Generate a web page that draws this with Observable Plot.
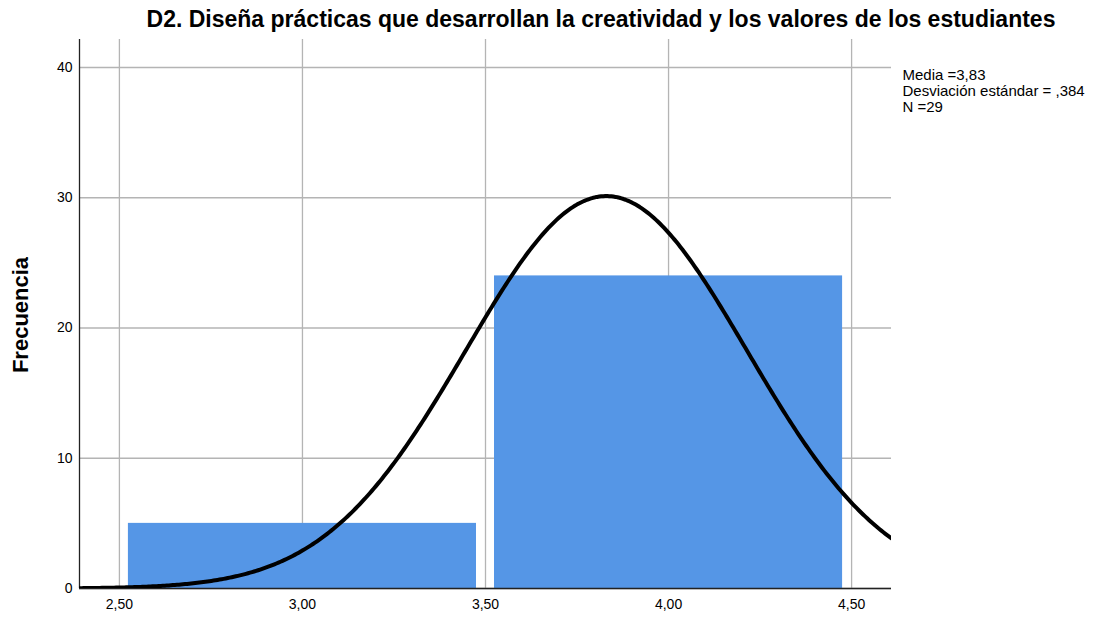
<!DOCTYPE html>
<html>
<head>
<meta charset="utf-8">
<script src="https://cdn.jsdelivr.net/npm/d3@7"></script>
<script src="https://cdn.jsdelivr.net/npm/@observablehq/plot@0.6"></script>
<style>
  html, body { margin: 0; padding: 0; background: #fff; }
  #wrap { position: relative; width: 1096px; height: 619px; font-family: "Liberation Sans", Arial, sans-serif; }
  #title { position: absolute; top: 6px; left: 601px; transform: translateX(-50%); white-space: nowrap;
           font-size: 23px; font-weight: bold; color: #000; line-height: 1.15; }
  #wrap svg { position: absolute; left: 0; top: 0; }
</style>
</head>
<body>
<div id="wrap">
  <div id="title">D2. Diseña prácticas que desarrollan la creatividad y los valores de los estudiantes</div>
</div>
<script>
// ---- data ----
const binStarts = [2.5, 3.5];
const binEnds = [3.5, 4.5];
const binCounts = [5, 24];
const mean = 3.83;
const sd = 0.384;
const n = 29;
const xTickValues = [2.5, 3.0, 3.5, 4.0, 4.5];
const xTickLabels = ["2,50", "3,00", "3,50", "4,00", "4,50"];
const yTickValues = [0, 10, 20, 30, 40];
const statsLines = ["Media =3,83", "Desviación estándar = ,384", "N =29"];

// ---- derived tables ----
const bins = binStarts.map((s, i) => ({x1: s, x2: binEnds[i], y: binCounts[i]}));
const xDomain = [2.391, 4.609];
const binWidth = 1.0;
const curve = d3.range(0, 401).map(i => {
  const x = xDomain[0] + (xDomain[1] - xDomain[0]) * i / 400;
  const z = (x - mean) / sd;
  return {x, y: n * binWidth * Math.exp(-0.5 * z * z) / (sd * Math.sqrt(2 * Math.PI))};
});

const chart = Plot.plot({
  width: 1096,
  height: 619,
  marginLeft: 79,
  marginRight: 205,
  marginTop: 39,
  marginBottom: 31,
  style: {fontFamily: "'Liberation Sans', Arial, sans-serif", fontSize: "14px", color: "#000", background: "transparent"},
  x: {domain: xDomain},
  y: {domain: [0, 42.15]},
  marks: [
    Plot.gridX(xTickValues, {stroke: "#b4b4b4", strokeOpacity: 1, strokeWidth: 1.3}),
    Plot.gridY(yTickValues, {stroke: "#b4b4b4", strokeOpacity: 1, strokeWidth: 1.3}),
    Plot.rectY(bins, {x1: "x1", x2: "x2", y: "y", fill: "#5596e6", insetLeft: 9, insetRight: 9}),
    Plot.ruleX([xDomain[0]], {stroke: "#222", strokeWidth: 1.3}),
    Plot.ruleY([0], {stroke: "#222", strokeWidth: 1.5}),
    Plot.line(curve, {x: "x", y: "y", stroke: "#000", strokeWidth: 4, clip: true}),
    Plot.axisX(xTickValues, {tickSize: 0, tickPadding: 11, tickFormat: (d, i) => xTickLabels[i], fontSize: 14, label: null}),
    Plot.axisY(yTickValues, {tickSize: 0, tickPadding: 7, fontSize: 14, label: null}),
    Plot.text(["Frecuencia"], {frameAnchor: "left", dx: -59, dy: 1, rotate: -90, textAnchor: "middle", fontWeight: "bold", fontSize: 22}),
    Plot.text([statsLines.join("\n")], {frameAnchor: "top-right", dx: 11, dy: 29, textAnchor: "start", lineAnchor: "top", lineHeight: 1.07, fontSize: 15})
  ]
});
document.getElementById("wrap").appendChild(chart);
</script>
</body>
</html>
